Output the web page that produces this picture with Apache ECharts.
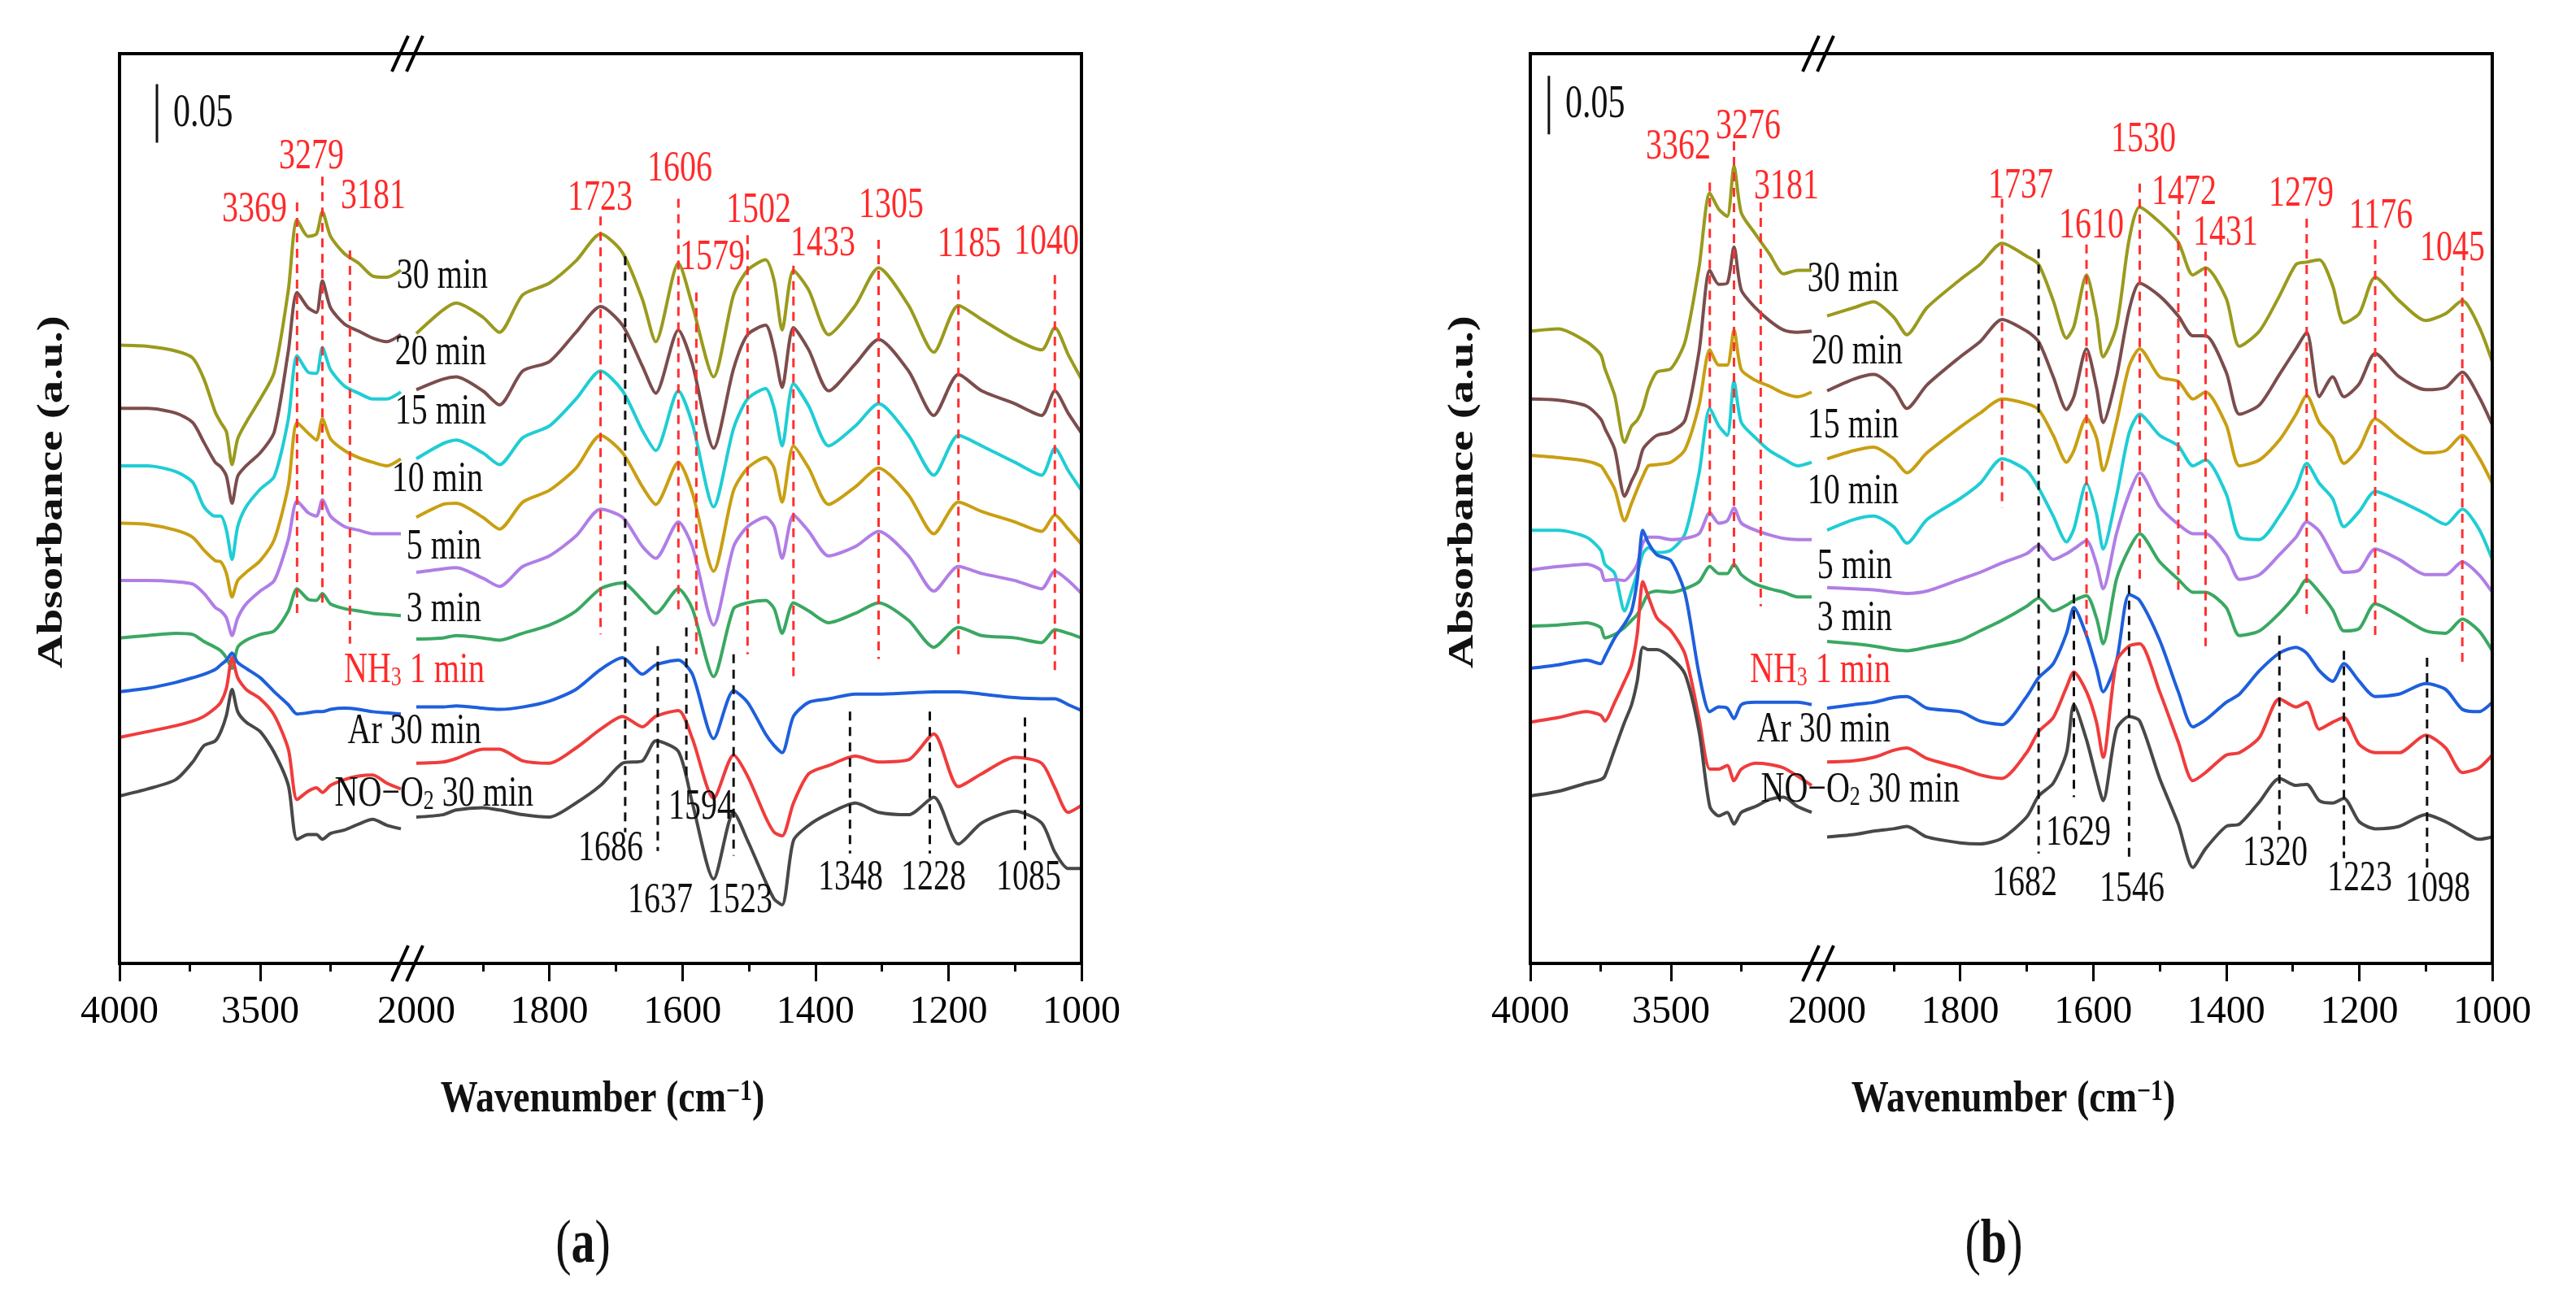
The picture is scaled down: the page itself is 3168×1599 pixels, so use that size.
<!DOCTYPE html>
<html>
<head>
<meta charset="utf-8">
<style>
html, body { margin: 0; padding: 0; background: #fff; }
#chart { width: 3168px; height: 1599px; }
</style>
<script src="https://cdn.jsdelivr.net/npm/echarts@6/dist/echarts.min.js"></script>
</head>
<body>
<div id="chart"></div>
<script>
// absorbance offsets in milli-a.u. (scale bar 0.05 = 50)

// ---- panel (a) ----
const waveAL = [4000,3900,3800,3740,3700,3660,3640,3620,3600,3580,3550,3500,3450,3400,3369,3330,3300,3279,3250,3200,3150,3100,3050,3000];
const waveAR = [2000,1960,1940,1900,1875,1840,1800,1760,1723,1690,1660,1640,1606,1585,1553,1523,1502,1475,1462,1450,1433,1410,1380,1340,1305,1260,1222,1185,1150,1100,1060,1040,1020,1000];

const a30L = [528,527,523,517,499,471,462,454,426,448,462,482,505,575,635,621,623,642,621,606,598,587,586,592];
const a20L = [474,474,470,462,445,428,424,416,393,416,425,436,454,523,573,560,556,583,560,546,540,534,531,537];
const a15L = [425,425,420,411,390,382,382,370,345,373,390,405,416,465,519,505,504,526,507,493,487,482,482,488];
const a10L = [376,375,370,364,353,344,343,333,313,327,334,344,362,408,462,453,447,465,448,438,432,428,425,431];
const a5L  = [327,327,326,324,316,304,301,295,280,295,307,318,327,362,395,385,382,396,382,373,370,367,367,367];
const a3L  = [278,280,282,281,275,270,267,261,252,270,276,281,284,301,320,311,310,316,307,303,301,299,298,297];
const aNH3L = [232,235,240,244,247,251,255,259,265,257,252,244,232,221,213,214,215,215,217,218,217,215,214,213];
const aArL = [193,198,203,207,211,218,223,235,261,244,234,226,212,183,140,147,150,146,152,157,160,161,154,149];
const aNOL = [143,149,157,172,186,190,198,212,234,215,206,198,180,152,106,110,110,106,111,114,119,123,118,115];

const a30R = [538,558,564,552,539,571,581,600,623,607,567,531,598,562,501,571,592,601,583,541,592,575,537,562,594,562,522,562,550,533,524,543,520,499];
const a20R = [490,499,501,489,477,506,514,539,561,545,510,487,541,512,440,508,537,545,524,492,543,524,489,512,533,506,468,503,489,478,468,489,470,453];
const a15R = [431,444,447,436,426,449,459,482,506,489,455,438,489,461,390,457,482,491,474,442,495,476,442,459,478,451,417,451,442,428,417,440,421,404];
const a10R = [381,392,393,381,371,394,404,423,451,436,407,392,428,402,335,404,423,432,423,394,442,423,392,407,423,400,367,394,386,377,369,383,371,358];
const a5R  = [334,337,338,329,322,339,348,365,388,381,356,346,377,356,289,356,373,381,373,346,383,369,348,356,369,348,318,339,333,327,320,335,327,316];
const a3R  = [277,278,280,278,276,282,289,301,320,325,310,299,320,303,245,303,308,310,303,282,308,301,291,299,308,293,270,287,280,278,274,285,282,278];
const aNH3R = [219,219,220,218,217,219,224,234,251,261,247,255,259,247,192,233,223,196,186,180,211,223,226,230,230,231,232,232,230,227,226,226,221,216];
const aArR = [171,172,175,183,183,173,171,184,200,211,202,211,216,192,141,178,160,125,112,109,137,162,169,177,172,174,196,151,162,176,171,150,129,135];
const aNOR = [125,127,131,133,131,127,125,137,152,171,173,190,181,137,72,129,105,70,55,50,105,118,128,137,129,127,142,102,120,130,120,95,81,81];

// [wavenumber, top, bottom]
const redPeaksA = [[3369,650,296],[3279,672,307],[3181,609,273],[1723,638,281],[1606,653,298],[1579,573,264],[1502,622,264],[1433,596,243],[1305,618,260],[1185,588,264],[1040,588,249]];
const blackPeaksA = [[1686,604,112],[1594,287,156],[1637,271,96],[1523,264,92],[1348,215,94],[1228,215,94],[1085,210,92]];

// ---- panel (b) ----
const waveBL = [4000,3900,3800,3750,3735,3700,3665,3640,3620,3600,3580,3550,3500,3450,3400,3362,3330,3300,3276,3250,3200,3150,3100,3050,3000];
const waveBR = [2000,1960,1930,1900,1880,1850,1800,1770,1737,1700,1682,1660,1640,1629,1610,1595,1585,1565,1546,1530,1500,1472,1450,1431,1400,1380,1350,1320,1295,1279,1260,1240,1223,1200,1176,1140,1100,1070,1045,1020,1000];

const b30L = [540,542,531,520,508,485,445,459,464,474,491,505,508,531,595,658,644,638,681,641,623,606,589,592,592];
const b20L = [482,481,476,465,457,439,399,412,422,439,445,451,454,464,523,592,580,581,612,575,560,549,541,539,540];
const b15L = [434,432,429,425,420,405,378,393,405,416,425,426,428,439,477,524,511,511,541,507,498,493,487,484,488];
const b10L = [370,370,364,353,341,333,301,318,333,350,355,351,353,367,419,474,459,451,497,462,449,438,431,425,428];
const b5L  = [336,339,341,336,327,328,327,333,341,359,364,364,362,363,367,385,376,378,389,376,370,366,363,362,362];
const b3L  = [288,289,291,287,278,281,287,293,298,307,316,318,317,320,326,339,333,333,341,332,324,320,317,313,313];
const bNH3L = [252,255,259,256,262,278,290,301,327,370,359,349,344,316,247,215,219,218,209,221,223,223,223,223,221];
const bArL = [206,210,215,212,207,223,241,255,281,326,313,295,284,264,209,166,166,169,156,166,171,170,167,160,152];
const bNOL = [143,147,154,157,160,183,206,221,241,270,268,268,261,247,198,134,126,129,119,129,134,140,142,134,129];

const b30R = [553,560,565,552,537,560,584,597,615,604,597,566,534,544,588,553,518,544,618,646,633,616,588,594,568,527,540,570,597,599,601,579,547,555,586,566,549,555,566,544,514];
const b20R = [489,499,503,491,474,494,518,531,550,540,531,501,473,484,525,492,462,501,558,581,570,553,536,536,505,469,477,503,525,539,484,501,484,495,521,501,490,492,505,484,460];
const b15R = [431,438,441,431,419,436,458,470,482,478,473,451,428,438,466,449,421,462,510,525,501,497,482,488,460,425,430,447,469,485,462,449,427,440,465,449,436,438,451,432,410];
const b10R = [370,379,382,373,359,379,397,410,431,421,406,382,360,371,410,384,354,399,453,469,451,442,425,430,401,364,362,382,406,427,410,397,373,386,403,395,384,375,388,371,345];
const b5R  = [321,320,319,317,316,318,328,334,342,350,357,345,350,354,361,341,320,367,401,419,390,375,367,367,349,328,332,349,364,377,369,349,334,336,354,345,332,332,343,332,317];
const b3R  = [275,273,271,268,267,270,276,284,293,305,312,301,306,310,314,295,273,328,354,367,343,328,317,317,304,280,284,299,315,328,317,302,284,286,307,297,284,282,294,284,267];
const bNH3R = [218,221,223,227,228,218,215,207,204,228,244,256,282,304,280,252,232,258,315,310,276,232,202,208,223,230,250,265,270,265,250,241,256,241,228,230,239,234,217,215,223];
const bArR = [172,173,176,182,184,175,167,161,158,180,198,210,236,249,232,206,176,258,271,273,232,189,156,163,178,180,193,226,219,223,200,206,210,187,180,180,195,184,163,167,178];
const bNOR = [108,110,113,115,117,108,103,102,107,125,143,154,180,221,191,158,139,200,211,207,158,119,82,98,117,119,138,158,152,153,139,137,141,121,115,117,127,121,113,106,108];

const redPeaksB = [[3362,667,339],[3276,702,333],[3181,650,305],[1737,653,389],[1610,614,280],[1530,666,328],[1472,643,319],[1431,608,271],[1279,636,296],[1176,618,280],[1045,595,254]];
const blackPeaksB = [[1682,610,94],[1629,315,142],[1546,323,90],[1320,280,111],[1223,267,90],[1098,261,78]];

// scale bar: [wavenumber, top], 0.05 a.u. long
const scaleBarA = [3867, 751];
const scaleBarB = [3934, 758];
const BAR = 50;

// ---- styling ----
const SERIF = '"Liberation Serif", "Times New Roman", serif';
const C = {
  olive: '#9a9a1e', brown: '#7c4d4d', cyan: '#1fcdd4', gold: '#c99f12',
  violet: '#b07ee6', green: '#3aa862', blue: '#1e5fdc', red: '#f03c3c', black: '#484848'
};
const RED_TXT = '#ff2a2a';

const curvesA = [
  ['30 min', C.olive, a30L, a30R], ['20 min', C.brown, a20L, a20R],
  ['15 min', C.cyan, a15L, a15R], ['10 min', C.gold, a10L, a10R],
  ['5 min', C.violet, a5L, a5R], ['3 min', C.green, a3L, a3R],
  ['NH3 1 min', C.blue, aNH3L, aNH3R], ['Ar 30 min', C.red, aArL, aArR],
  ['NO-O2 30 min', C.black, aNOL, aNOR]
];
const curvesB = [
  ['30 min', C.olive, b30L, b30R], ['20 min', C.brown, b20L, b20R],
  ['15 min', C.gold, b15L, b15R], ['10 min', C.cyan, b10L, b10R],
  ['5 min', C.violet, b5L, b5R], ['3 min', C.green, b3L, b3R],
  ['NH3 1 min', C.blue, bNH3L, bNH3R], ['Ar 30 min', C.red, bArL, bArR],
  ['NO-O2 30 min', C.black, bNOL, bNOR]
];

// panel layout (pixels)
const PANEL = [
  { left: 147, dx: 0 },
  { left: 1882, dx: 1735 }
];
const TOP = 66, HEIGHT = 1119, LW = 346, GAP = 19, RW = 818;

const zip = (xs, ys) => xs.map((x, i) => [x, ys[i]]);

const grids = [], xAxes = [], yAxes = [], series = [], graphic = [];

PANEL.forEach((p) => {
  grids.push({ left: p.left, top: TOP, width: LW, height: HEIGHT });
  grids.push({ left: p.left + LW + GAP, top: TOP, width: RW, height: HEIGHT });
});

const tickStyle = { color: '#000', width: 3 };
const labelStyle = { color: '#000', fontFamily: SERIF, fontSize: 48, margin: 36 };

grids.forEach((g, gi) => {
  const isLeft = gi % 2 === 0;
  xAxes.push({
    gridIndex: gi, type: 'value', inverse: true,
    min: isLeft ? 3000 : 1000, max: isLeft ? 4000 : 2000, interval: isLeft ? 500 : 200,
    axisLine: { show: false },
    axisTick: { show: true, inside: false, length: 22, lineStyle: tickStyle,
      customValues: isLeft ? [3500, 4000] : [1000, 1200, 1400, 1600, 1800] },
    minorTick: { show: true, splitNumber: 2, length: 10, lineStyle: tickStyle },
    splitLine: { show: false }, minorSplitLine: { show: false },
    axisLabel: Object.assign({}, labelStyle, {
      formatter: (v) => (isLeft && v === 3000 ? '' : String(v))
    })
  });
  yAxes.push({ gridIndex: gi, type: 'value', min: 0, max: 777, show: false });
});

function addCurves(list, wl, wr, gl) {
  list.forEach((c) => {
    [[wl, c[2], gl], [wr, c[3], gl + 1]].forEach(([w, v, gi]) => {
      series.push({
        type: 'line', name: c[0], xAxisIndex: gi, yAxisIndex: gi,
        data: zip(w, v), symbol: 'none', smooth: 0.25, silent: true,
        lineStyle: { color: c[1], width: 4 }, z: 2
      });
    });
  });
}

function addPeaks(peaks, color, gl) {
  peaks.forEach((pk) => {
    const gi = pk[0] > 2500 ? gl : gl + 1;
    series.push({
      type: 'line', xAxisIndex: gi, yAxisIndex: gi,
      data: [[pk[0], pk[1]], [pk[0], pk[2]]], symbol: 'none', silent: true,
      lineStyle: { color, width: 3, type: [11, 8] }, z: 4
    });
  });
}

function addBar(bar, gi) {
  series.push({
    type: 'line', xAxisIndex: gi, yAxisIndex: gi,
    data: [[bar[0], bar[1]], [bar[0], bar[1] - BAR]], symbol: 'none', silent: true,
    lineStyle: { color: '#111', width: 3 }, z: 4
  });
}

addCurves(curvesA, waveAL, waveAR, 0);
addCurves(curvesB, waveBL, waveBR, 2);
addPeaks(redPeaksA, '#ff3030', 0);
addPeaks(blackPeaksA, '#111', 0);
addPeaks(redPeaksB, '#ff3030', 2);
addPeaks(blackPeaksB, '#111', 2);
addBar(scaleBarA, 0);
addBar(scaleBarB, 2);

// ---- text and frame ----
function txt(text, x, y, opt) {
  opt = opt || {};
  return {
    type: 'text', x, y, z: 20, silent: true,
    scaleX: opt.sx || 1, scaleY: opt.sy || 1, rotation: opt.rot || 0,
    style: {
      text, fill: opt.color || '#111', fontFamily: SERIF,
      fontSize: opt.size || 40, fontWeight: opt.weight || 'normal',
      align: opt.align || 'center', verticalAlign: 'middle', rich: opt.rich
    }
  };
}

function curveLabel(name, color) {
  const base = { fontSize: 40, fontFamily: SERIF, fill: color };
  const sub = { fontSize: 26, fontFamily: SERIF, fill: color, verticalAlign: 'bottom', lineHeight: 30 };
  if (name === 'NH3 1 min') return { text: '{m|NH}{s|3}{m| 1 min}', rich: { m: base, s: sub } };
  if (name === 'NO-O2 30 min') return { text: '{m|NO\u2212O}{s|2}{m| 30 min}', rich: { m: base, s: sub } };
  return { text: '{m|' + name + '}', rich: { m: base } };
}

const peakPosA = [[313,258],[383,193],[459,242],[738,244],[836,208],[876,317],[933,259],[1012,300],[1096,253],[1192,301],[1287,298]];
const blackPosA = [[751,1044],[862,993],[812,1108],[910,1108],[1046,1080],[1148,1080],[1265,1080]];
const peakPosB = [[2064,181],[2150,156],[2197,230],[2485,229],[2572,278],[2636,172],[2686,237],[2737,287],[2830,239],[2928,266],[3016,306]];
const blackPosB = [[2490,1087],[2556,1025],[2622,1094],[2798,1050],[2902,1081],[2998,1094]];
const curvePosA = [[600,340],[598,434],[598,507],[594,590],[592,673],[592,750],[596,825],[592,900],[656,977]];
const curvePosB = [[2335,344],[2340,433],[2335,524],[2335,605],[2327,697],[2327,761],[2325,825],[2325,898],[2410,972]];

function addPanelText(curves, redPk, blackPk, redPos, blackPos, curvePos, p, letter, barTextY) {
  const d = p.dx;
  // frame
  graphic.push({ type: 'rect', z: 15, silent: true,
    shape: { x: p.left, y: TOP, width: LW + GAP + RW, height: HEIGHT },
    style: { fill: 'none', stroke: '#000', lineWidth: 4 } });
  // axis break marks
  [TOP, TOP + HEIGHT].forEach((yy) => {
    [482, 500].forEach((xx) => {
      graphic.push({ type: 'line', z: 16, silent: true,
        shape: { x1: xx + d, y1: yy + 22, x2: xx + 20 + d, y2: yy - 22 },
        style: { stroke: '#000', lineWidth: 4 } });
    });
  });
  redPk.forEach((pk, i) => graphic.push(txt(String(pk[0]), redPos[i][0], redPos[i][1], { color: RED_TXT, sy: 1.32 })));
  blackPk.forEach((pk, i) => graphic.push(txt(String(pk[0]), blackPos[i][0], blackPos[i][1], { color: '#111', sy: 1.3 })));
  curves.forEach((c, i) => {
    const color = c[0] === 'NH3 1 min' ? RED_TXT : '#111';
    const lab = curveLabel(c[0], color);
    graphic.push(txt(lab.text, curvePos[i][0], curvePos[i][1], { align: 'right', sy: 1.3, rich: lab.rich }));
  });
  // scale bar label
  graphic.push(txt('0.05', (d ? 1925 : 213), barTextY, { align: 'left', size: 42, sy: 1.35 }));
  // axis titles
  graphic.push(txt('{t|Wavenumber (cm}{s|\u22121}{t|)}', 741 + d, 1353, { sy: 1.2, rich: {
    t: { fontSize: 46, fontWeight: 'bold', fontFamily: SERIF, fill: '#111' },
    s: { fontSize: 30, fontWeight: 'bold', fontFamily: SERIF, fill: '#111', verticalAlign: 'top' }
  } }));
  graphic.push(txt('Absorbance (a.u.)', 65 + d, 605, { size: 44, weight: 'bold', rot: Math.PI / 2, sx: 1.3 }));
  graphic.push(txt('{p|(}{b|' + letter + '}{p|)}', 717 + d, 1533, { sy: 1.3, rich: {
    p: { fontSize: 58, fontFamily: SERIF, fill: '#111' },
    b: { fontSize: 58, fontWeight: 'bold', fontFamily: SERIF, fill: '#111' }
  } }));
}

addPanelText(curvesA, redPeaksA, blackPeaksA, peakPosA, blackPosA, curvePosA, PANEL[0], 'a', 140);
addPanelText(curvesB, redPeaksB, blackPeaksB, peakPosB, blackPosB, curvePosB, PANEL[1], 'b', 129);

const chart = echarts.init(document.getElementById('chart'));
chart.setOption({
  backgroundColor: '#ffffff',
  animation: false,
  textStyle: { fontFamily: SERIF },
  grid: grids,
  xAxis: xAxes,
  yAxis: yAxes,
  series: series,
  graphic: graphic
});
</script>
</body>
</html>
